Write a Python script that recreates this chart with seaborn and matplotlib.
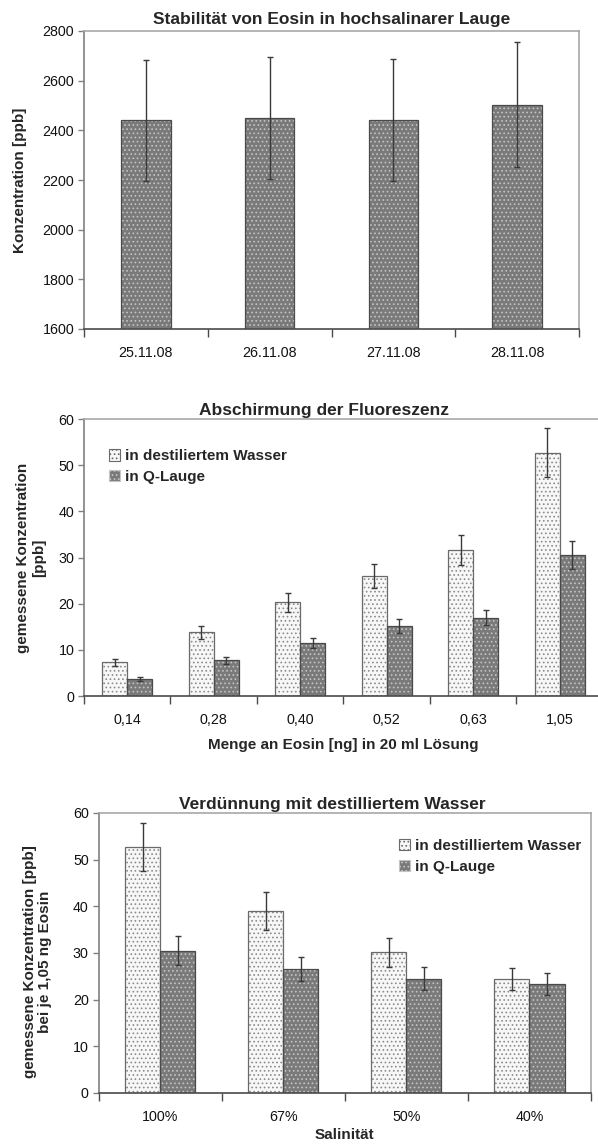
import numpy as np
import pandas as pd
import matplotlib
matplotlib.use("Agg")
import matplotlib.pyplot as plt
from matplotlib.patches import Rectangle, Patch
import seaborn as sns

# ---------------- data ----------------
dates = ["25.11.08", "26.11.08", "27.11.08", "28.11.08"]
stab_values = [2441, 2451, 2441, 2504]
stab_err = [244, 245, 245, 253]

amounts = ["0,14", "0,28", "0,40", "0,52", "0,63", "1,05"]
water_vals = [7.3, 13.8, 20.3, 25.9, 31.6, 52.7]
water_err = [0.7, 1.4, 2.0, 2.6, 3.2, 5.3]
lauge_vals = [3.7, 7.7, 11.4, 15.1, 17.0, 30.5]
lauge_err = [0.45, 0.8, 1.1, 1.5, 1.7, 3.0]

salinity = ["100%", "67%", "50%", "40%"]
dil_water_vals = [52.7, 39.0, 30.2, 24.4]
dil_water_err = [5.2, 4.0, 3.1, 2.4]
dil_lauge_vals = [30.5, 26.6, 24.5, 23.3]
dil_lauge_err = [3.1, 2.6, 2.4, 2.35]

legend_labels_2 = ["in destiliertem Wasser", "in Q-Lauge"]
legend_labels_3 = ["in destilliertem Wasser", "in Q-Lauge"]

# ---------------- style ----------------
sns.set_style("white")
plt.rcParams["font.family"] = ["Liberation Sans", "DejaVu Sans"]
plt.rcParams["hatch.linewidth"] = 0.7

TITLE_FS = 12.5
LABEL_FS = 11
TICK_FS = 10.3

LIGHT_FACE, LIGHT_DOT, LIGHT_EDGE = "#f7f7f7", "#8c8c8c", "#6a6a6a"
DARK_FACE, DARK_DOT, DARK_EDGE = "#7a7a7a", "#c4c4c4", "#4a4a4a"
ERR_COLOR = "#3a3a3a"

fig = plt.figure(figsize=(5.98, 11.47), dpi=100)
ax1 = fig.add_axes([84 / 598, 1 - 329 / 1147, 495 / 598, 298 / 1147])
ax2 = fig.add_axes([84 / 598, 1 - 696 / 1147, 519 / 598, 277 / 1147])
ax3 = fig.add_axes([98.5 / 598, 1 - 1093 / 1147, 492.5 / 598, 280 / 1147])


def style_axes(ax, ncat):
    for side in ["top", "right"]:
        ax.spines[side].set_color("#a8a8a8")
        ax.spines[side].set_linewidth(1.2)
        ax.spines[side].set_visible(True)
    ax.spines["left"].set_color("#808080")
    ax.spines["left"].set_linewidth(1.2)
    ax.spines["bottom"].set_color("#4a4a4a")
    ax.spines["bottom"].set_linewidth(1.2)
    ax.set_xlim(-0.5, ncat - 0.5)
    ax.set_xticks(np.arange(ncat + 1) - 0.5, minor=True)
    ax.tick_params(axis="x", which="major", length=0, pad=12, labelsize=TICK_FS, colors="#111111")
    ax.tick_params(axis="x", which="minor", length=5.5, width=1, color="#4a4a4a", bottom=True)
    ax.tick_params(axis="y", which="major", length=4, width=1, color="#808080", left=True,
                   pad=3, labelsize=TICK_FS, labelcolor="#111111")


def dress_bars(ax, patches, face, dot, edge):
    for p in patches:
        p.set_facecolor(face)
        p.set_edgecolor(dot)
        p.set_hatch("....")
        p.set_linewidth(0)
        ax.add_patch(Rectangle(p.get_xy(), p.get_width(), p.get_height(), fill=False,
                               edgecolor=edge, linewidth=0.9, zorder=p.get_zorder() + 0.1))


def add_errors(ax, patches, errs):
    xs = [p.get_x() + p.get_width() / 2 for p in patches]
    ys = [p.get_height() for p in patches]
    ax.errorbar(xs, ys, yerr=errs, fmt="none", ecolor=ERR_COLOR, elinewidth=1,
                capsize=2.5, capthick=1, zorder=5)


# ---------------- panel 1 ----------------
df1 = pd.DataFrame({"date": dates, "val": stab_values})
sns.barplot(data=df1, x="date", y="val", color=DARK_FACE, saturation=1, width=0.4,
            errorbar=None, ax=ax1)
bars1 = list(ax1.containers[0])
dress_bars(ax1, bars1, DARK_FACE, DARK_DOT, DARK_EDGE)
add_errors(ax1, bars1, stab_err)
ax1.set_ylim(1600, 2800)
ax1.set_yticks(np.arange(1600, 2801, 200))
style_axes(ax1, len(dates))
ax1.set_xlabel("")
ax1.set_ylabel("Konzentration [ppb]", fontsize=LABEL_FS, fontweight="bold")
ax1.yaxis.set_label_coords(-0.115, 0.5)
ax1.set_title("Stabilität von Eosin in hochsalinarer Lauge", fontsize=TITLE_FS,
              fontweight="bold", pad=5)


# ---------------- grouped panels ----------------
def grouped(ax, cats, v1, e1, v2, e2, labels, width):
    df = pd.DataFrame({
        "cat": cats + cats,
        "grp": [labels[0]] * len(cats) + [labels[1]] * len(cats),
        "val": v1 + v2,
    })
    sns.barplot(data=df, x="cat", y="val", hue="grp", hue_order=labels,
                palette={labels[0]: LIGHT_FACE, labels[1]: DARK_FACE}, saturation=1,
                width=width, gap=0, errorbar=None, legend=False, ax=ax)
    b1 = list(ax.containers[0])
    b2 = list(ax.containers[1])
    dress_bars(ax, b1, LIGHT_FACE, LIGHT_DOT, LIGHT_EDGE)
    dress_bars(ax, b2, DARK_FACE, DARK_DOT, DARK_EDGE)
    add_errors(ax, b1, e1)
    add_errors(ax, b2, e2)
    ax.set_ylim(0, 60)
    ax.set_yticks(np.arange(0, 61, 10))
    style_axes(ax, len(cats))
    handles = [Patch(facecolor=LIGHT_FACE, edgecolor=LIGHT_EDGE, hatch="....", linewidth=0.8),
               Patch(facecolor=DARK_FACE, edgecolor=DARK_DOT, hatch="....", linewidth=0.8)]
    return handles


h2 = grouped(ax2, amounts, water_vals, water_err, lauge_vals, lauge_err, legend_labels_2, 0.573)
ax2.set_xlabel("Menge an Eosin [ng] in 20 ml Lösung", fontsize=LABEL_FS, fontweight="bold",
               labelpad=8)
ax2.set_ylabel("gemessene Konzentration\n[ppb]", fontsize=LABEL_FS, fontweight="bold",
               linespacing=1.2)
ax2.yaxis.set_label_coords(-0.073, 0.5)
ax2.set_title("Abschirmung der Fluoreszenz", fontsize=TITLE_FS, fontweight="bold", pad=3,
              x=0.462)
ax2.legend(h2, legend_labels_2, loc="upper left", bbox_to_anchor=(0.033, 0.918),
           frameon=False, borderpad=0, handlelength=0.75, handleheight=0.75,
           handletextpad=0.3, labelspacing=0.45, prop={"size": LABEL_FS, "weight": "bold"})

h3 = grouped(ax3, salinity, dil_water_vals, dil_water_err, dil_lauge_vals, dil_lauge_err,
             legend_labels_3, 0.57)
ax3.set_xlabel("Salinität", fontsize=LABEL_FS, fontweight="bold", labelpad=3)
ax3.set_ylabel("gemessene Konzentration [ppb]\nbei je 1,05 ng Eosin", fontsize=LABEL_FS,
               fontweight="bold", linespacing=1.1)
ax3.yaxis.set_label_coords(-0.095, 0.47)
ax3.set_title("Verdünnung mit destilliertem Wasser", fontsize=TITLE_FS, fontweight="bold",
              pad=3, x=0.474)
ax3.legend(h3, legend_labels_3, loc="upper left", bbox_to_anchor=(0.594, 0.935),
           frameon=False, borderpad=0, handlelength=0.75, handleheight=0.75,
           handletextpad=0.3, labelspacing=0.45, prop={"size": LABEL_FS, "weight": "bold"})

fig.savefig("out.png", dpi=100, facecolor="white")
